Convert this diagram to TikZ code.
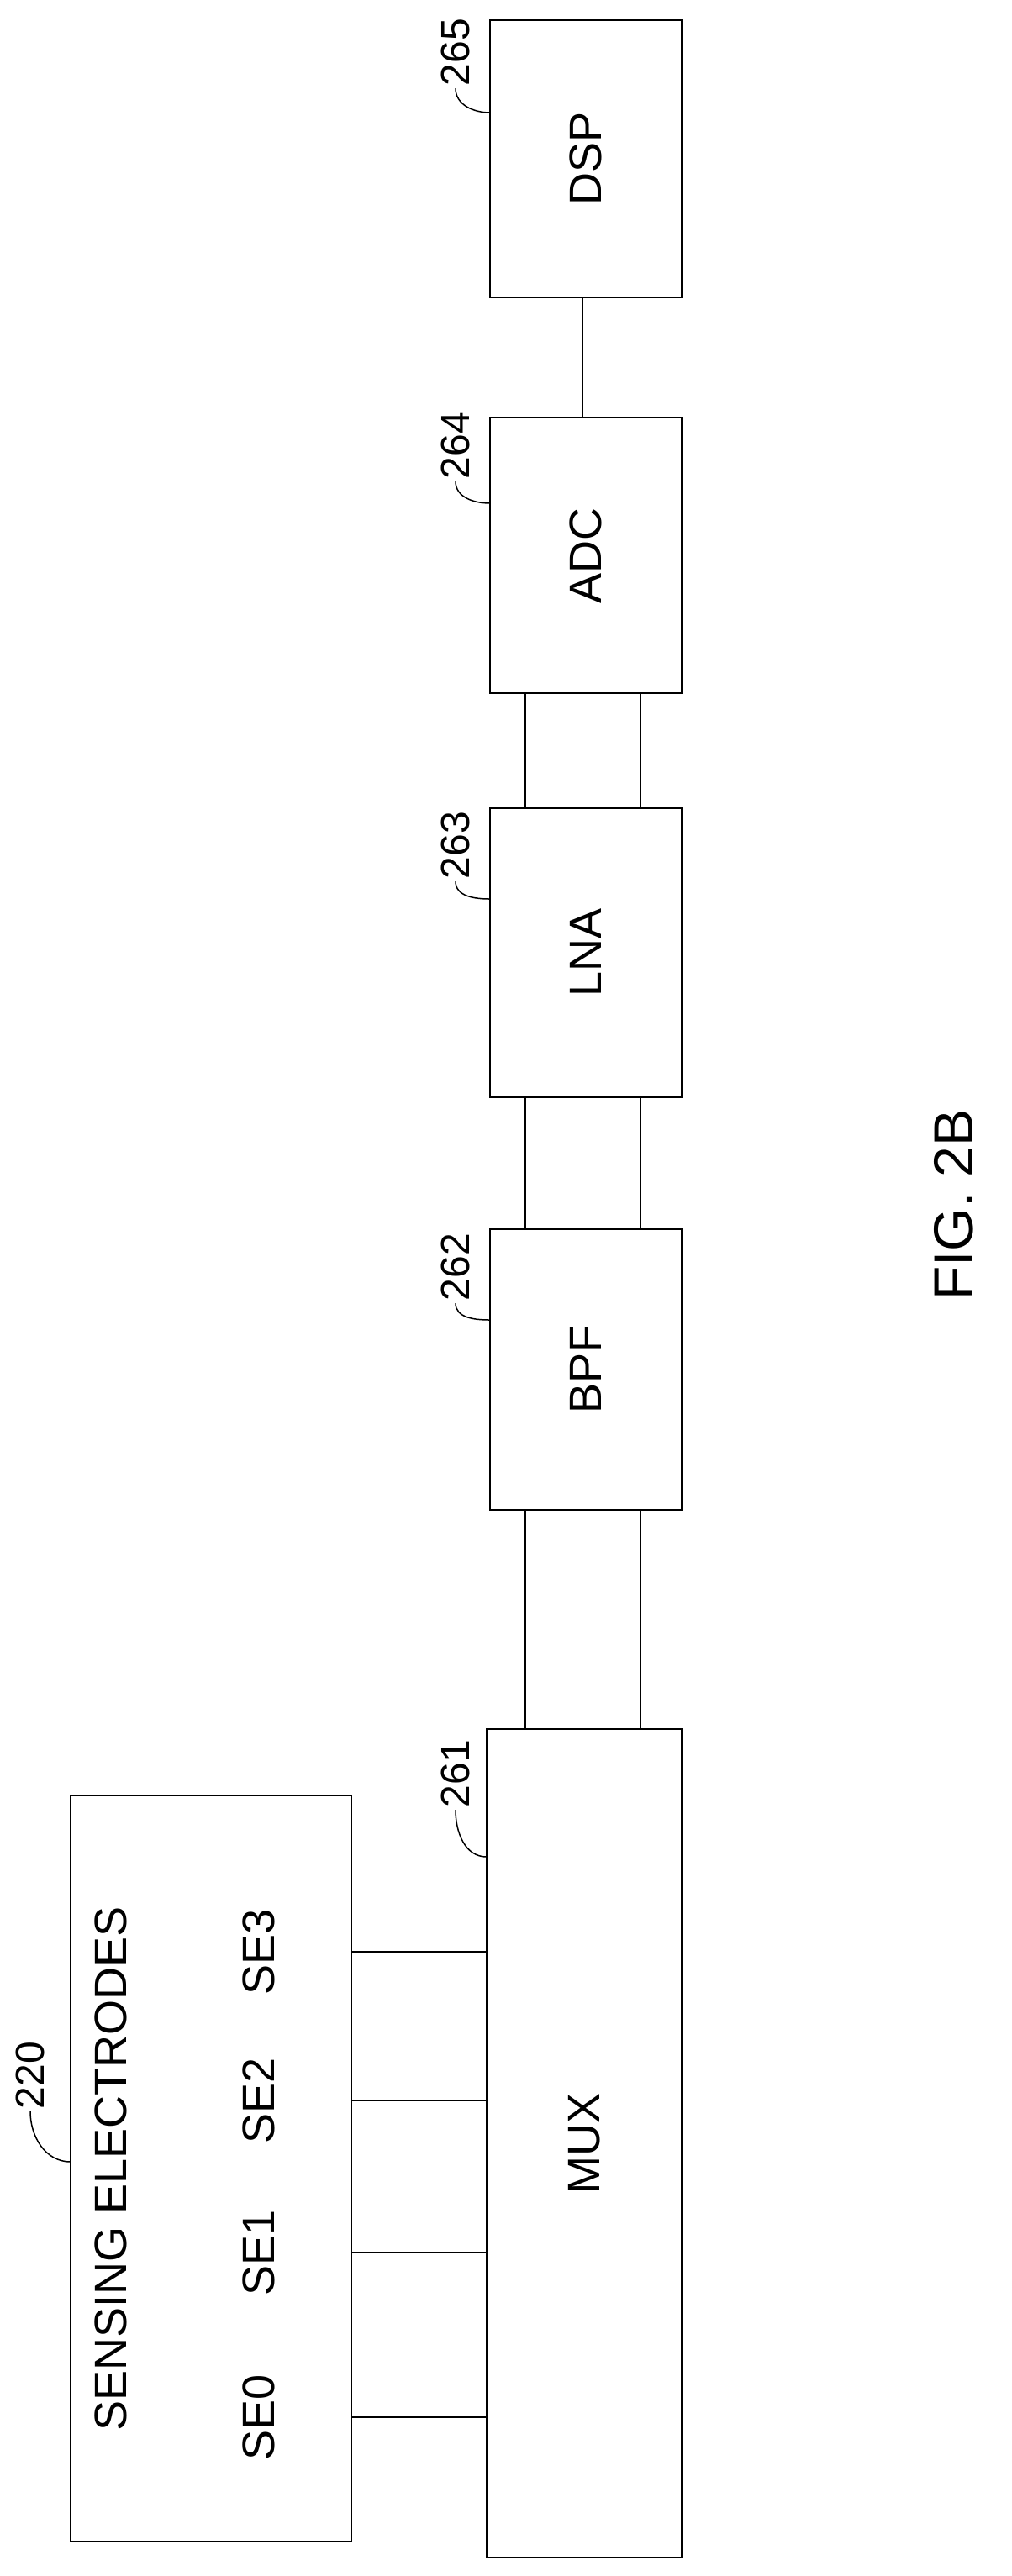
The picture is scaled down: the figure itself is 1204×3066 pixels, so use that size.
\documentclass[tikz,border=0pt]{standalone}
\usepackage{fontspec}
\setmainfont{Liberation Sans}
\begin{document}
\begin{tikzpicture}[x=1pt,y=-1pt,line width=2pt,
  blk/.style={rotate=90,font=\fontsize{54}{60}\selectfont,inner sep=0},
  lab/.style={rotate=90,font=\fontsize{48}{52}\selectfont,inner sep=2pt},
  lead/.style={line width=1.5pt}]
\useasboundingbox (0,0) rectangle (1204,3066);
\draw (583,24) rectangle (811,354); \node[blk] (dsp) at (697,189) {DSP};
\draw (583,497) rectangle (811,825); \node[blk] (adc) at (697,661) {ADC};
\draw (583,962) rectangle (811,1306); \node[blk] (lna) at (697,1134) {LNA};
\draw (583,1463) rectangle (811,1797); \node[blk] (bpf) at (697,1630) {BPF};
\draw (579,2058) rectangle (811,3044); \node[blk] (mux) at (695,2551) {MUX};
\draw (84,2137) rectangle (418,3025);
\node[blk] (se) at (132,2581) {SENSING ELECTRODES};
\foreach \n/\y in {0/2877,1/2681,2/2500,3/2323}{
  \node[blk] (se\n) at (308,\y) {SE\n};
  \draw (418,\y) -- (579,\y);}
\draw (693,354) -- (693,497);
\foreach \x in {625,762}{
  \draw (\x,825) -- (\x,962);
  \draw (\x,1306) -- (\x,1463);
  \draw (\x,1797) -- (\x,2058);}
\foreach \t/\x/\y/\ex/\ey in {265/542/62/583/134,264/542/530/583/599,263/542/1006/583/1070,262/542/1508/583/1571,261/542/2111/579/2210,220/36/2470/84/2573}{
  \node[lab] (l\t) at (\x,\y) {\t};
  \coordinate (e\t) at (\ex,\ey);
  \draw[lead] (l\t.west) to[out=-90,in=180] (e\t);}
\node[rotate=90,font=\fontsize{66}{70}\selectfont] (fig) at (1135,1434) {FIG. 2B};
\end{tikzpicture}
\end{document}
